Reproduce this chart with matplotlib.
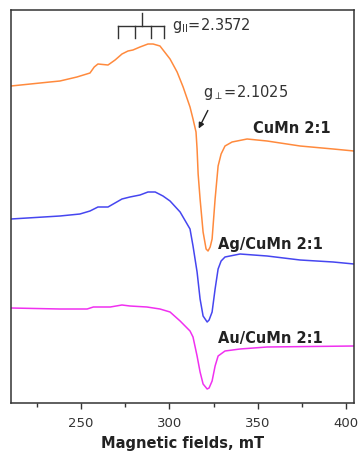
import matplotlib
matplotlib.use("Agg")
import matplotlib.pyplot as plt
from matplotlib.ticker import MultipleLocator

plt.rcParams['font.family'] = ['DejaVu Sans']
plt.rcParams['mathtext.fontset'] = 'dejavusans'

# Magnetic field (mT) and signal (arbitrary units, offset)
cumn_x = [210.4, 232.4, 238.1, 247.7, 255.1, 257.5, 259.6, 265.3, 269.3, 273.2, 276.6, 279.4,
          283.4, 287.9, 290.8, 294.7, 300.4, 304.4, 307.8, 311.7, 313.4, 315.1, 315.7, 316.3,
          317.4, 319.1, 320.8, 321.9, 323.1, 324.2, 325.9, 327.6, 329.3, 331.5, 335.5, 344.0,
          355.3, 374.0, 392.7, 404.5]
cumn_y = [317, 321, 322, 326, 330, 336, 339, 338, 343, 349, 352, 353,
          356, 359, 359, 357, 344, 331, 316, 296, 284, 271, 254, 229,
          204, 171, 154, 152, 156, 164, 204, 237, 249, 257, 261, 264,
          262, 257, 254, 252]

ag_x = [210.4, 238.1, 249.4, 255.1, 259.6, 265.3, 273.2, 277.7, 283.4, 287.9, 292.0, 296.4,
        300.4, 306.1, 311.7, 313.4, 315.7, 317.4, 319.1, 321.4, 322.5, 324.2, 325.9, 327.6,
        329.3, 331.5, 340.0, 355.3, 374.0, 392.7, 404.5]
ag_y = [184, 187, 189, 192, 196, 196, 204, 206, 208, 211, 211, 207,
        202, 191, 174, 157, 131, 104, 87, 81, 83, 91, 114, 134,
        142, 146, 149, 147, 143, 141, 139]

au_x = [210.4, 238.1, 253.5, 257.0, 262.7, 266.6, 273.2, 277.7, 287.3, 294.7, 300.4, 306.1,
        311.7, 313.4, 315.7, 317.4, 319.1, 321.4, 322.5, 324.2, 325.9, 327.6, 331.5, 340.0,
        355.3, 404.5]
au_y = [95, 94, 94, 96, 96, 96, 98, 97, 96, 94, 91, 82,
        72, 66, 47, 31, 19, 14, 15, 22, 37, 47, 52, 54,
        56, 57]

labels = ["CuMn 2:1", "Ag/CuMn 2:1", "Au/CuMn 2:1"]
colors = ["#ff8a3d", "#4646f0", "#f030f0"]

# hyperfine splitting stick diagram positions (mT)
hf_sticks = [271.0, 280.6, 289.6, 297.0]
hf_center = 284.5

fig = plt.figure(figsize=(3.61, 4.52), dpi=100)
ax = fig.add_axes([11/361, 1-404/452, 343/361, 393/452])

for xs, ys, c in zip([cumn_x, ag_x, au_x], [cumn_y, ag_y, au_y], colors):
    ax.plot(xs, ys, color=c, lw=1.1, solid_joinstyle='round')

ax.set_xlim(210.4, 404.5)
ax.set_ylim(0, 393)
ax.set_yticks([])
ax.xaxis.set_major_locator(MultipleLocator(50))
ax.xaxis.set_minor_locator(MultipleLocator(25))
ax.tick_params(axis='x', which='major', direction='out', length=4.5, width=1, colors='#333333',
               labelsize=9.5, pad=5)
ax.tick_params(axis='x', which='minor', direction='out', length=3, width=1, colors='#333333')
for s in ax.spines.values():
    s.set_color('#333333')
    s.set_linewidth(1.1)

ax.set_xlabel("Magnetic fields, mT", fontsize=10.5, fontweight='bold', color='#222222', labelpad=4)

# stick diagram
kc = '#333333'
ax.plot([hf_sticks[0], hf_sticks[-1]], [377, 377], color=kc, lw=1)
for hx in hf_sticks:
    ax.plot([hx, hx], [365, 377], color=kc, lw=1)
ax.plot([hf_center, hf_center], [377, 390], color=kc, lw=1)

ax.text(301.5, 374, r"g$_{\rm II}$=2.3572", fontsize=10.5, color='#333333', va='baseline')
ax.text(319.1, 307, r"g$_{\perp}$=2.1025", fontsize=10.5, color='#333333', va='baseline')
ax.annotate("", xy=(315.9, 272), xytext=(322.5, 295),
            arrowprops=dict(arrowstyle='-|>', color='#222222', lw=1, mutation_scale=8))

ax.text(347.4, 271, labels[0], fontsize=10.5, fontweight='bold', color='#222222', va='baseline')
ax.text(327.6, 155, labels[1], fontsize=10.5, fontweight='bold', color='#222222', va='baseline')
ax.text(327.6, 61, labels[2], fontsize=10.5, fontweight='bold', color='#222222', va='baseline')

fig.savefig("out.png", dpi=100)
